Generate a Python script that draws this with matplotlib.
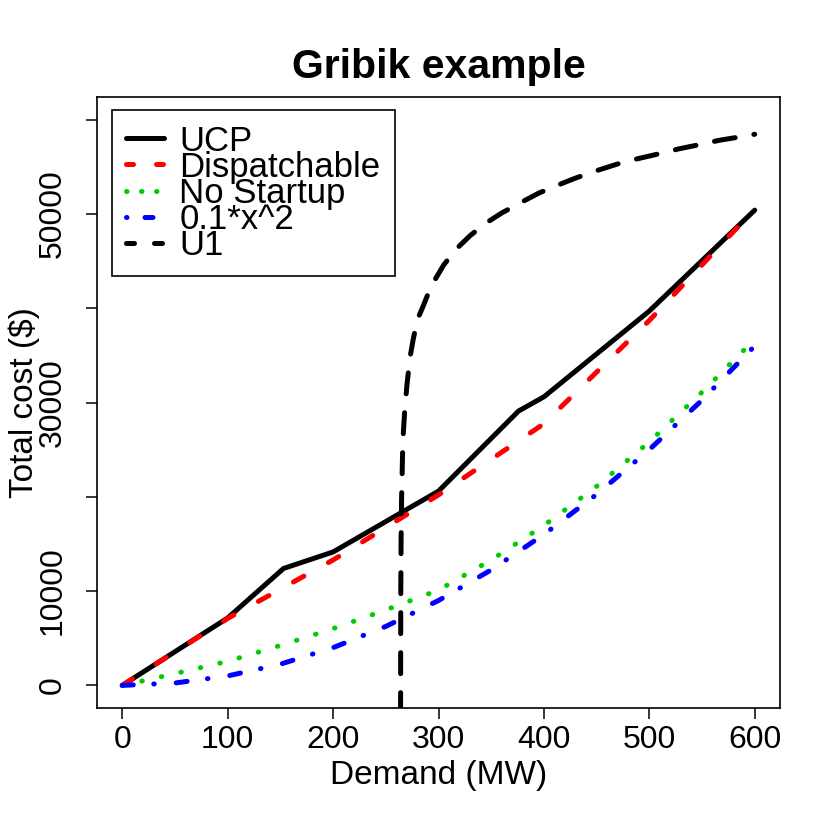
import numpy as np
import matplotlib
matplotlib.use("Agg")
import matplotlib.pyplot as plt
from matplotlib.lines import Line2D

plt.rcParams['font.family'] = ['Liberation Sans', 'DejaVu Sans']

# data
ucp_x = [0, 100, 153, 200, 300, 376, 400, 500, 600]
ucp_y = [0, 7150, 12400, 14150, 20600, 29100, 30600, 39700, 50400]

disp_x = [0, 100, 200, 300, 400, 500, 600]
disp_y = [0, 7100, 13300, 20200, 27750, 38700, 50500]

nostart_x = [0, 20, 50, 100, 150, 200, 250, 300, 350, 400, 450, 500, 550, 600]
nostart_y = [0, 490, 1250, 2550, 4230, 6020, 8000, 10110, 13300, 16960,
             21100, 25820, 31100, 36700]

quad_x = [0, 50, 100, 150, 200, 250, 300, 350, 400, 450, 500, 550, 600]
quad_y = [0, 250, 1000, 2250, 4000, 6250, 9000, 12250, 16000, 20250,
          25000, 30250, 36000]

u1_x = [264.0, 264.05, 264.2, 264.5, 265, 266.2, 268, 270, 273, 276, 280,
        285, 290, 296, 305, 318, 330, 346, 360, 378, 395, 412, 430, 449,
        470, 487, 510, 528, 550, 566, 585, 600]
u1_y = [-3000, 300, 9400, 15500, 20000, 26000, 29200, 31800, 34800, 36700,
        38800, 40100, 41500, 42900, 44600, 46400, 47700, 49100, 50100, 51200,
        52200, 53000, 53800, 54550, 55300, 55800, 56400, 56900, 57400, 57800,
        58150, 58450]

labels = ["UCP", "Dispatchable", "No Startup", "0.1*x^2", "U1"]
colors = ["black", "red", "#00cd00", "blue", "black"]

lw = 3.6
line_dash = [None, (2.4, 5.6), (0.1, 3.9), (2.2, 4.1, 0.1, 4.4), (4.2, 3.8)]
leg_dash = [None, (1.4, 4.6), (0.1, 2.9), (0.1, 3.6, 1.6, 3.0), (1.6, 4.0)]

fig = plt.figure(figsize=(8.3, 8.3), dpi=100)
ax = fig.add_axes([97 / 830, 1 - 708 / 830, 683 / 830, 611 / 830])

series = [(ucp_x, ucp_y), (disp_x, disp_y), (nostart_x, nostart_y),
          (quad_x, quad_y), (u1_x, u1_y)]
for (xs, ys), c, d in zip(series, colors, line_dash):
    ln, = ax.plot(xs, ys, color=c, lw=lw, solid_capstyle='round',
                  dash_capstyle='round', solid_joinstyle='round',
                  dash_joinstyle='round')
    if d is not None:
        ln.set_dashes(d)

ax.set_xlim(-24, 624)
ax.set_ylim(-2400, 62400)

ax.set_xticks([0, 100, 200, 300, 400, 500, 600])
ax.set_yticks([0, 10000, 20000, 30000, 40000, 50000, 60000],
              ['0', '10000', '', '30000', '', '50000', ''])
ax.tick_params(axis='both', length=8, width=1.1, labelsize=23, color='black')
ax.tick_params(axis='x', pad=4)
ax.tick_params(axis='y', pad=13)
plt.setp(ax.get_yticklabels(), rotation=90, va='center')
for s in ax.spines.values():
    s.set_linewidth(1.2)

ax.set_xlabel("Demand (MW)", fontsize=24)
ax.xaxis.set_label_coords(0.5, -0.085)
ax.set_ylabel(r"Total cost (\$)", fontsize=24)
ax.yaxis.set_label_coords(-0.0835, 0.5)

fig.text(438.5 / 830, 1 - 78 / 830, "Gribik example", fontsize=29.5,
         fontweight='bold', ha='center', va='baseline')

handles = []
for c, d in zip(colors, leg_dash):
    h = Line2D([], [], color=c, lw=lw, solid_capstyle='round',
               dash_capstyle='round')
    if d is not None:
        h.set_dashes(d)
    handles.append(h)

leg = ax.legend(handles, labels, loc='upper left',
                bbox_to_anchor=(111.7 / 830, 1 - 110 / 830),
                bbox_transform=fig.transFigure, borderaxespad=0,
                fontsize=25, handlelength=1.1, handletextpad=0.43,
                labelspacing=-0.2, borderpad=0.42, fancybox=False,
                framealpha=1, edgecolor='black')
leg.get_frame().set_linewidth(1.2)

fig.savefig("out.png", dpi=100)
